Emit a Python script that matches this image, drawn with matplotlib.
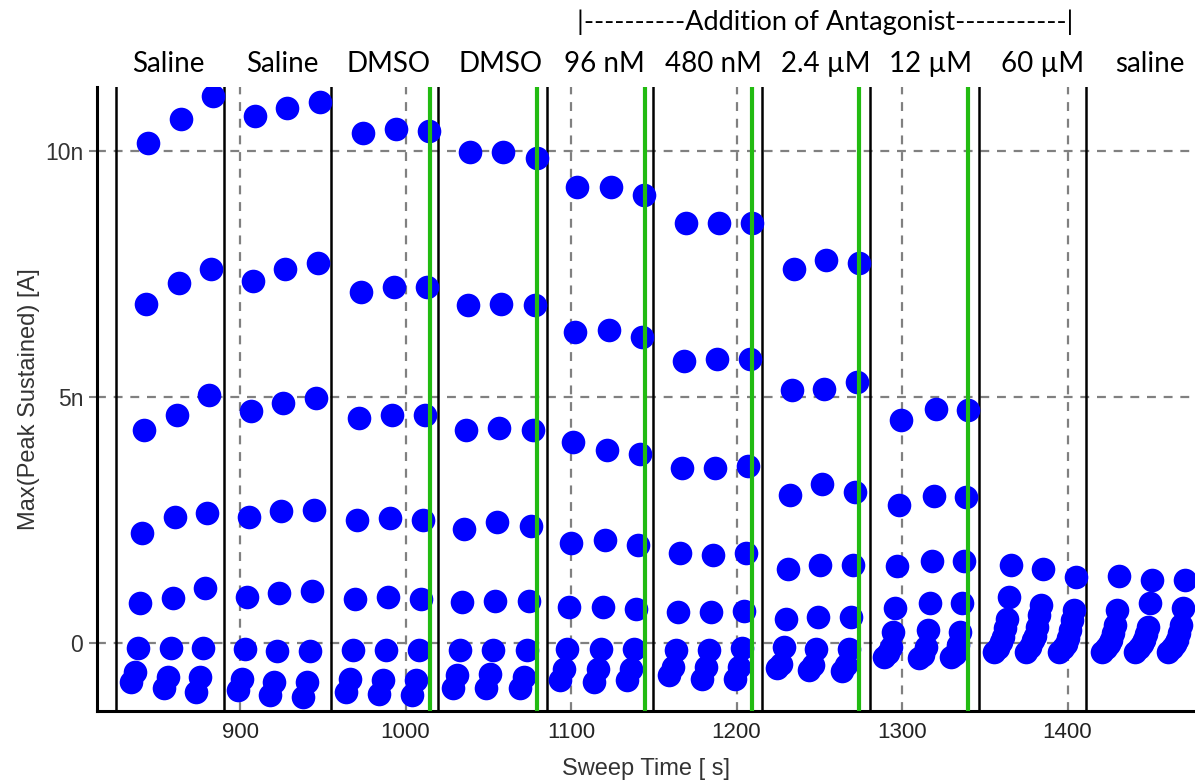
import matplotlib
matplotlib.use("Agg")
import matplotlib.pyplot as plt
from matplotlib.ticker import FuncFormatter
import matplotlib.transforms as mtransforms

# condition labels shown above each block
conditions = ["Saline", "Saline", "DMSO", "DMSO", "96 nM", "480 nM",
              "2.4 \u00b5M", "12 \u00b5M", "60 \u00b5M", "saline"]

# sweep times (s) of the top point of every sweep, 3 sweeps per block
sweep_t = [844.4, 864.4, 883.7,
           909.1, 928.4, 948.3,
           974.3, 994.3, 1014.2,
           1039.0, 1058.9, 1079.5,
           1103.6, 1124.2, 1144.1,
           1169.5, 1189.4, 1209.4,
           1234.7, 1254.1, 1274.0,
           1299.4, 1320.5, 1339.9,
           1365.9, 1385.2, 1405.1,
           1431.1, 1451.1, 1471.0]

# each pulse level is recorded a bit earlier than the one above it
level_dt = [0.0, -1.2, -2.4, -3.6, -4.8, -6.0, -8.0, -10.5]

# Max(peak sustained) in nA, one list per pulse level
lvl1 = [10.16, 10.65, 11.12, 10.71, 10.88, 11.00, 10.37, 10.45, 10.41, 9.98, 9.98, 9.86,
        9.27, 9.27, 9.10, 8.53, 8.53, 8.53, 7.61, 7.78, 7.73, 4.53, 4.76, 4.73,
        1.59, 1.50, 1.34, 1.37, 1.29, 1.29]
lvl2 = [6.90, 7.31, 7.61, 7.35, 7.61, 7.73, 7.14, 7.24, 7.24, 6.86, 6.90, 6.86,
        6.33, 6.37, 6.22, 5.73, 5.78, 5.78, 5.15, 5.17, 5.30, 2.80, 2.98, 2.96,
        0.93, 0.78, 0.67, 0.67, 0.82, 0.71]
lvl3 = [4.33, 4.63, 5.04, 4.71, 4.88, 4.98, 4.57, 4.63, 4.63, 4.33, 4.37, 4.33,
        4.08, 3.92, 3.84, 3.55, 3.55, 3.59, 3.00, 3.24, 3.08, 1.56, 1.66, 1.66,
        0.48, 0.57, 0.47, 0.37, 0.32, 0.37]
lvl4 = [2.24, 2.57, 2.65, 2.57, 2.69, 2.71, 2.51, 2.55, 2.51, 2.31, 2.47, 2.37,
        2.04, 2.10, 2.00, 1.84, 1.80, 1.84, 1.50, 1.59, 1.59, 0.71, 0.81, 0.81,
        0.30, 0.33, 0.27, 0.20, 0.18, 0.20]
lvl5 = [0.82, 0.92, 1.12, 0.94, 1.02, 1.06, 0.90, 0.94, 0.90, 0.84, 0.86, 0.86,
        0.73, 0.73, 0.69, 0.63, 0.63, 0.65, 0.49, 0.52, 0.52, 0.23, 0.27, 0.23,
        0.12, 0.15, 0.10, 0.06, 0.06, 0.06]
lvl6 = [-0.10, -0.10, -0.10, -0.11, -0.16, -0.16, -0.14, -0.14, -0.14, -0.14, -0.14, -0.14,
        -0.11, -0.11, -0.11, -0.14, -0.14, -0.10, -0.07, -0.13, -0.11, -0.07, -0.07, -0.04,
        0.03, 0.06, -0.01, -0.02, -0.02, -0.02]
lvl7 = [-0.59, -0.69, -0.69, -0.72, -0.79, -0.79, -0.72, -0.76, -0.76, -0.65, -0.62, -0.69,
        -0.52, -0.52, -0.52, -0.48, -0.48, -0.48, -0.42, -0.45, -0.45, -0.20, -0.24, -0.22,
        -0.10, -0.08, -0.10, -0.10, -0.10, -0.10]
lvl8 = [-0.79, -0.92, -0.99, -0.96, -1.06, -1.10, -0.99, -1.03, -1.06, -0.92, -0.92, -0.92,
        -0.76, -0.79, -0.76, -0.65, -0.72, -0.72, -0.50, -0.55, -0.57, -0.28, -0.30, -0.28,
        -0.18, -0.18, -0.18, -0.18, -0.18, -0.18]

# block boundaries (black) and wash-in markers (green), in s
block_edges = [825.1, 890.3, 955.0, 1019.6, 1085.5, 1149.5, 1215.4, 1280.7, 1346.5, 1411.2]
green_marks = [1014.8, 1079.5, 1144.7, 1209.4, 1274.0, 1339.9]

# where the condition names sit (s)
label_x = [856.5, 925.4, 990.0, 1057.1, 1119.9, 1185.8, 1254.1, 1316.9, 1385.2, 1449.8]


def n_label(v, pos):
    if abs(v) < 1e-9:
        return "0"
    return f"{v:g}n"


def plot_data():
    fig = plt.figure(figsize=(11.95, 7.84), dpi=100)
    ax = fig.add_axes([97 / 1195, 73 / 784, 1098 / 1195, 624 / 784])

    ax.set_xlim(813.6, 1477)
    ax.set_ylim(-1.38, 11.30)

    # dashed grid under everything
    ax.set_xticks([900, 1000, 1100, 1200, 1300, 1400])
    ax.set_yticks([0, 5, 10])
    ax.grid(True, color="#808080", linewidth=1.6, linestyle=(0, (4, 3.5)), zorder=0)
    ax.set_axisbelow(True)

    for xe in block_edges:
        ax.axvline(xe, color="black", linewidth=1.8, zorder=1)

    levels = [lvl1, lvl2, lvl3, lvl4, lvl5, lvl6, lvl7, lvl8]
    for dt, vals in zip(level_dt, levels):
        xs = [t + dt for t in sweep_t]
        ax.plot(xs, vals, linestyle="none", marker="o", markersize=17,
                color="#0000ff", markeredgewidth=0, zorder=3)

    for xg in green_marks:
        ax.axvline(xg, color="#22bb11", linewidth=3.0, zorder=4)

    # axes styling
    for side in ["top", "right"]:
        ax.spines[side].set_visible(False)
    for side in ["left", "bottom"]:
        ax.spines[side].set_linewidth(2.2)
        ax.spines[side].set_color("black")
    ax.yaxis.set_major_formatter(FuncFormatter(n_label))
    ax.tick_params(axis="x", length=0, pad=8, labelsize=16, labelcolor="#222222")
    ax.tick_params(axis="y", length=6, width=1.5, color="#808080", pad=4,
                   labelsize=16.5, labelcolor="#333333")
    for lab in ax.get_xticklabels() + ax.get_yticklabels():
        lab.set_family("Liberation Sans")

    ax.set_xlabel("Sweep Time [ s]", fontsize=17, color="#333333", family="Liberation Sans")
    ax.xaxis.set_label_coords(0.5, -0.075)
    ax.set_ylabel("Max(Peak Sustained) [A]", fontsize=17, color="#333333", family="Liberation Sans")
    ax.yaxis.set_label_coords(-0.052, 0.5)

    # condition names above the blocks
    trans = mtransforms.blended_transform_factory(ax.transData, ax.transAxes)
    for xm, name in zip(label_x, conditions):
        ax.text(xm, 1.037, name, transform=trans, ha="center", va="center",
                fontsize=20, family=["Lato", "DejaVu Sans"], color="black", clip_on=False)

    ax.text(1253.5, 1.104, "|----------Addition of Antagonist-----------|", transform=trans,
            ha="center", va="center", fontsize=19.5, family=["Lato", "DejaVu Sans"],
            color="black", clip_on=False)

    fig.savefig("out.png", dpi=100)


def main():
    plot_data()


if __name__ == "__main__":
    main()
